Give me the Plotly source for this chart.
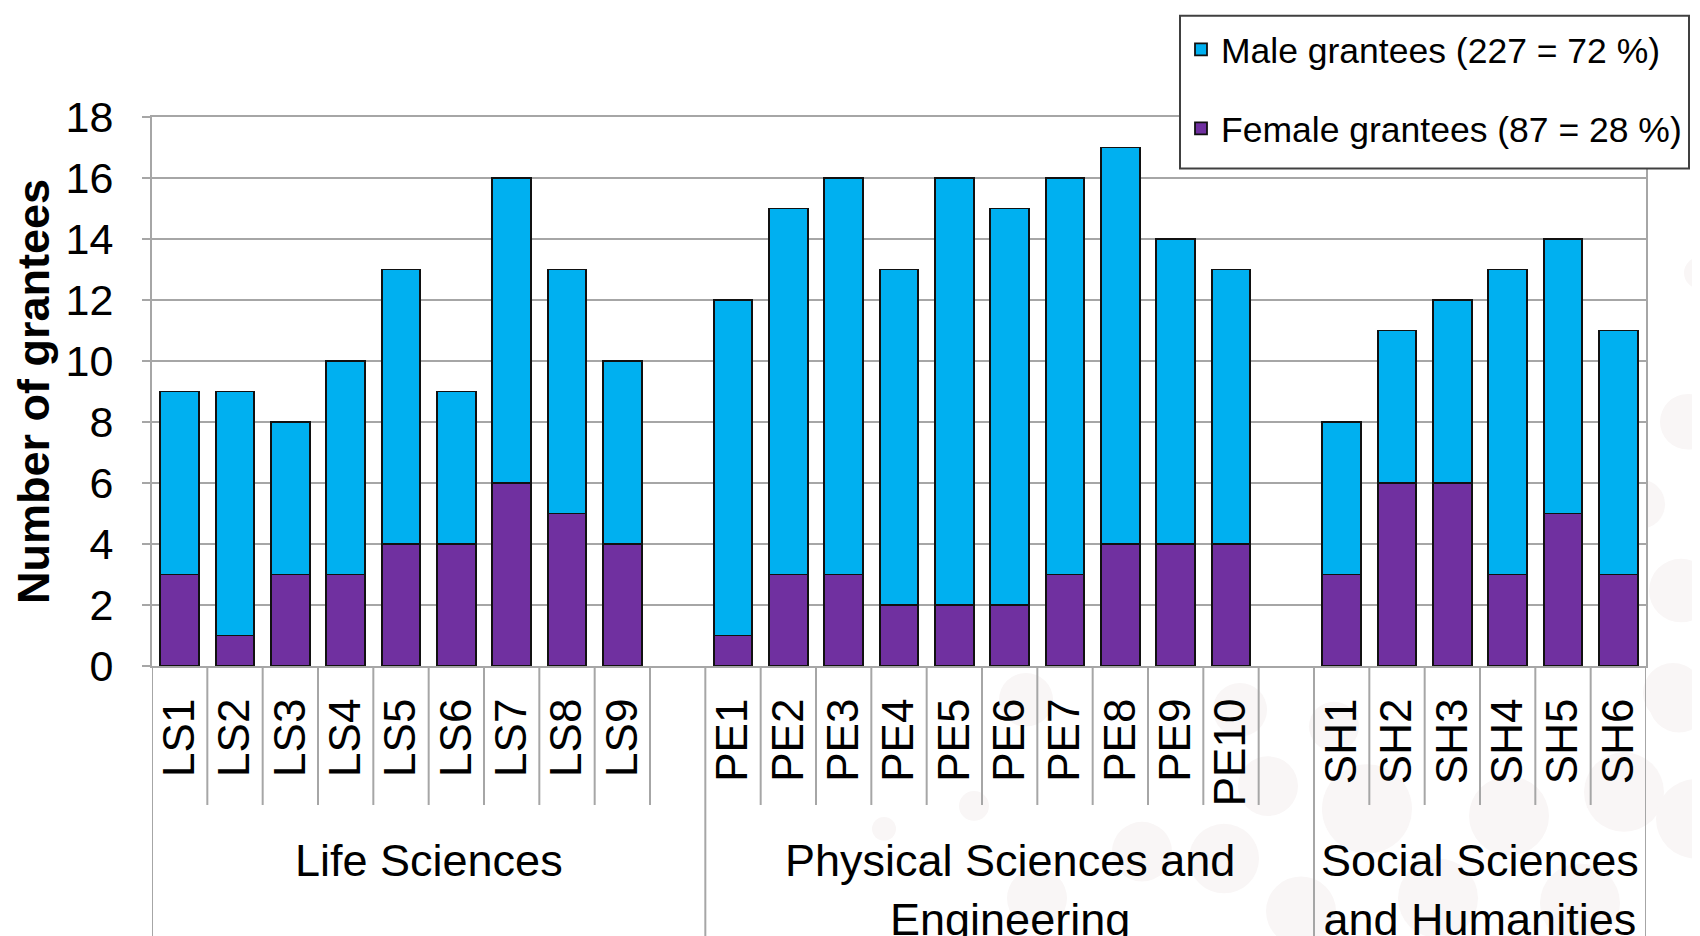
import plotly.graph_objects as go

# ---------------- data ----------------
ls_codes = ["LS1", "LS2", "LS3", "LS4", "LS5", "LS6", "LS7", "LS8", "LS9"]
pe_codes = ["PE1", "PE2", "PE3", "PE4", "PE5", "PE6", "PE7", "PE8", "PE9", "PE10"]
sh_codes = ["SH1", "SH2", "SH3", "SH4", "SH5", "SH6"]

female_ls = [3, 1, 3, 3, 4, 4, 6, 5, 4]
male_ls = [6, 8, 5, 7, 9, 5, 10, 8, 6]
female_pe = [1, 3, 3, 2, 2, 2, 3, 4, 4, 4]
male_pe = [11, 12, 13, 11, 14, 13, 13, 13, 10, 9]
female_sh = [3, 6, 6, 3, 5, 3]
male_sh = [5, 5, 6, 10, 9, 8]

group_names = ["Life Sciences",
               "Physical Sciences and<br>Engineering",
               "Social Sciences<br>and Humanities"]

male_name = "Male grantees (227 = 72 %)"
female_name = "Female grantees (87 = 28 %)"

# ---------------- build positions (one empty slot between groups) ----------------
groups = [(ls_codes, female_ls, male_ls),
          (pe_codes, female_pe, male_pe),
          (sh_codes, female_sh, male_sh)]

xs, labels, fem, mal = [], [], [], []
group_bounds = [-0.5]
short_bounds = []
pos = 0
for gi, (codes, f, m) in enumerate(groups):
    for c, fv, mv in zip(codes, f, m):
        xs.append(pos)
        labels.append(c)
        fem.append(fv)
        mal.append(mv)
        pos += 1
    if gi < len(groups) - 1:
        pos += 1  # empty slot
    group_bounds.append(pos - 0.5)
n_slots = pos
for k in range(n_slots - 1):
    b = k + 0.5
    if b not in group_bounds:
        short_bounds.append(b)

group_centers = [(group_bounds[i] + group_bounds[i + 1]) / 2 for i in range(len(groups))]

FONT = "Liberation Sans, Arial, sans-serif"
MALE_C = "#00B0F0"
FEMALE_C = "#7030A0"
GRID_C = "#A6A6A6"

fig = go.Figure()
fig.add_trace(go.Bar(x=xs, y=fem, name=female_name, legendgroup="f", legendrank=2,
                     marker=dict(color=FEMALE_C, line=dict(color="#111111", width=1.8)),
                     width=0.7))
fig.add_trace(go.Bar(x=xs, y=mal, name=male_name, legendgroup="m", legendrank=1,
                     marker=dict(color=MALE_C, line=dict(color="#111111", width=1.8)),
                     width=0.7))

OFF = 8  # page body margin
W, H = 1700, 936
# page-pixel layout targets
P_LEFT, P_RIGHT, P_TOP, P_BOTTOM = 152, 1646, 113, 666
L = P_LEFT - OFF
R = W - (P_RIGHT - OFF)
T = P_TOP - OFF
B = H - (P_BOTTOM - OFF)
pw = W - L - R
ph = H - T - B

def px(pix):  # page x pixel -> paper
    return (pix - OFF - L) / pw

def py(pix):  # page y pixel -> paper
    return (H - B - (pix - OFF)) / ph

shapes = []
# faint decorative background circles (page pixels)
circles = [(1700, 270, 16), (1688, 420, 28), (1640, 503, 25), (1681, 590, 32), (1673, 693, 30),
           (1026, 700, 27), (974, 807, 15), (1240, 710, 27), (1268, 787, 30), (1367, 810, 45),
           (1509, 817, 40), (1624, 793, 40), (1679, 703, 30), (1696, 820, 40), (1142, 853, 30),
           (1224, 860, 35), (1438, 900, 40), (1301, 913, 35), (1037, 900, 30), (1334, 727, 25),
           (884, 830, 12), (1580, 905, 40)]
for cx, cy, r in circles:
    shapes.append(dict(type="circle", xref="paper", yref="paper", layer="below",
                       x0=px(cx - r), x1=px(cx + r), y0=py(cy + r), y1=py(cy - r),
                       fillcolor="#F9F6F6", line=dict(width=0)))
# white plot area covering circles
shapes.append(dict(type="rect", xref="paper", yref="paper", layer="below",
                   x0=0, x1=1, y0=0, y1=1, fillcolor="white", line=dict(width=0)))

# category separators in label area
for b in short_bounds:
    shapes.append(dict(type="line", xref="x", yref="paper", x0=b, x1=b,
                       y0=0, y1=py(806), line=dict(color=GRID_C, width=2)))
for b in group_bounds:
    shapes.append(dict(type="line", xref="x", yref="paper", x0=b, x1=b,
                       y0=0, y1=py(970), line=dict(color=GRID_C, width=2)))

# legend frame
shapes.append(dict(type="rect", xref="paper", yref="paper", layer="above",
                   x0=px(1180), x1=px(1689), y0=py(165), y1=py(11),
                   fillcolor="white", line=dict(color="#404040", width=2)))

annotations = []
for c, name in zip(group_centers, group_names):
    annotations.append(dict(x=c, xref="x", y=py(834), yref="paper",
                            xanchor="center", yanchor="top", showarrow=False,
                            text=name, align="center",
                            font=dict(family=FONT, size=45, color="black")))

fig.update_layout(
    width=W, height=H,
    margin=dict(l=L, r=R, t=T, b=B),
    paper_bgcolor="white",
    plot_bgcolor="rgba(0,0,0,0)",
    barmode="stack",
    font=dict(family=FONT, color="black"),
    shapes=shapes,
    annotations=annotations,
    showlegend=True,
    legend=dict(x=px(1181), y=py(15), xanchor="left", yanchor="top",
                bgcolor="rgba(0,0,0,0)", borderwidth=0,
                font=dict(family=FONT, size=35.5, color="black"),
                traceorder="grouped", tracegroupgap=30),
)

fig.update_xaxes(range=[-0.5, n_slots - 0.5], tickmode="array", tickvals=xs, ticktext=labels,
                 tickangle=-90, tickfont=dict(family=FONT, size=44, color="black"),
                 ticks="", ticklabelstandoff=13,
                 showgrid=False, zeroline=False,
                 showline=True, mirror=True, linecolor=GRID_C, linewidth=2)
fig.update_yaxes(range=[0, 18], dtick=2, tick0=0,
                 tickfont=dict(family=FONT, size=43, color="black"),
                 ticks="outside", ticklen=8, tickcolor=GRID_C, tickwidth=2,
                 ticklabelstandoff=20,
                 showgrid=True, gridcolor=GRID_C, gridwidth=2,
                 zeroline=False,
                 showline=True, mirror=True, linecolor=GRID_C, linewidth=2,
                 title=dict(text="<b>Number of grantees</b>", standoff=8,
                            font=dict(family=FONT, size=45, color="black")))

fig.write_html("out.html")
